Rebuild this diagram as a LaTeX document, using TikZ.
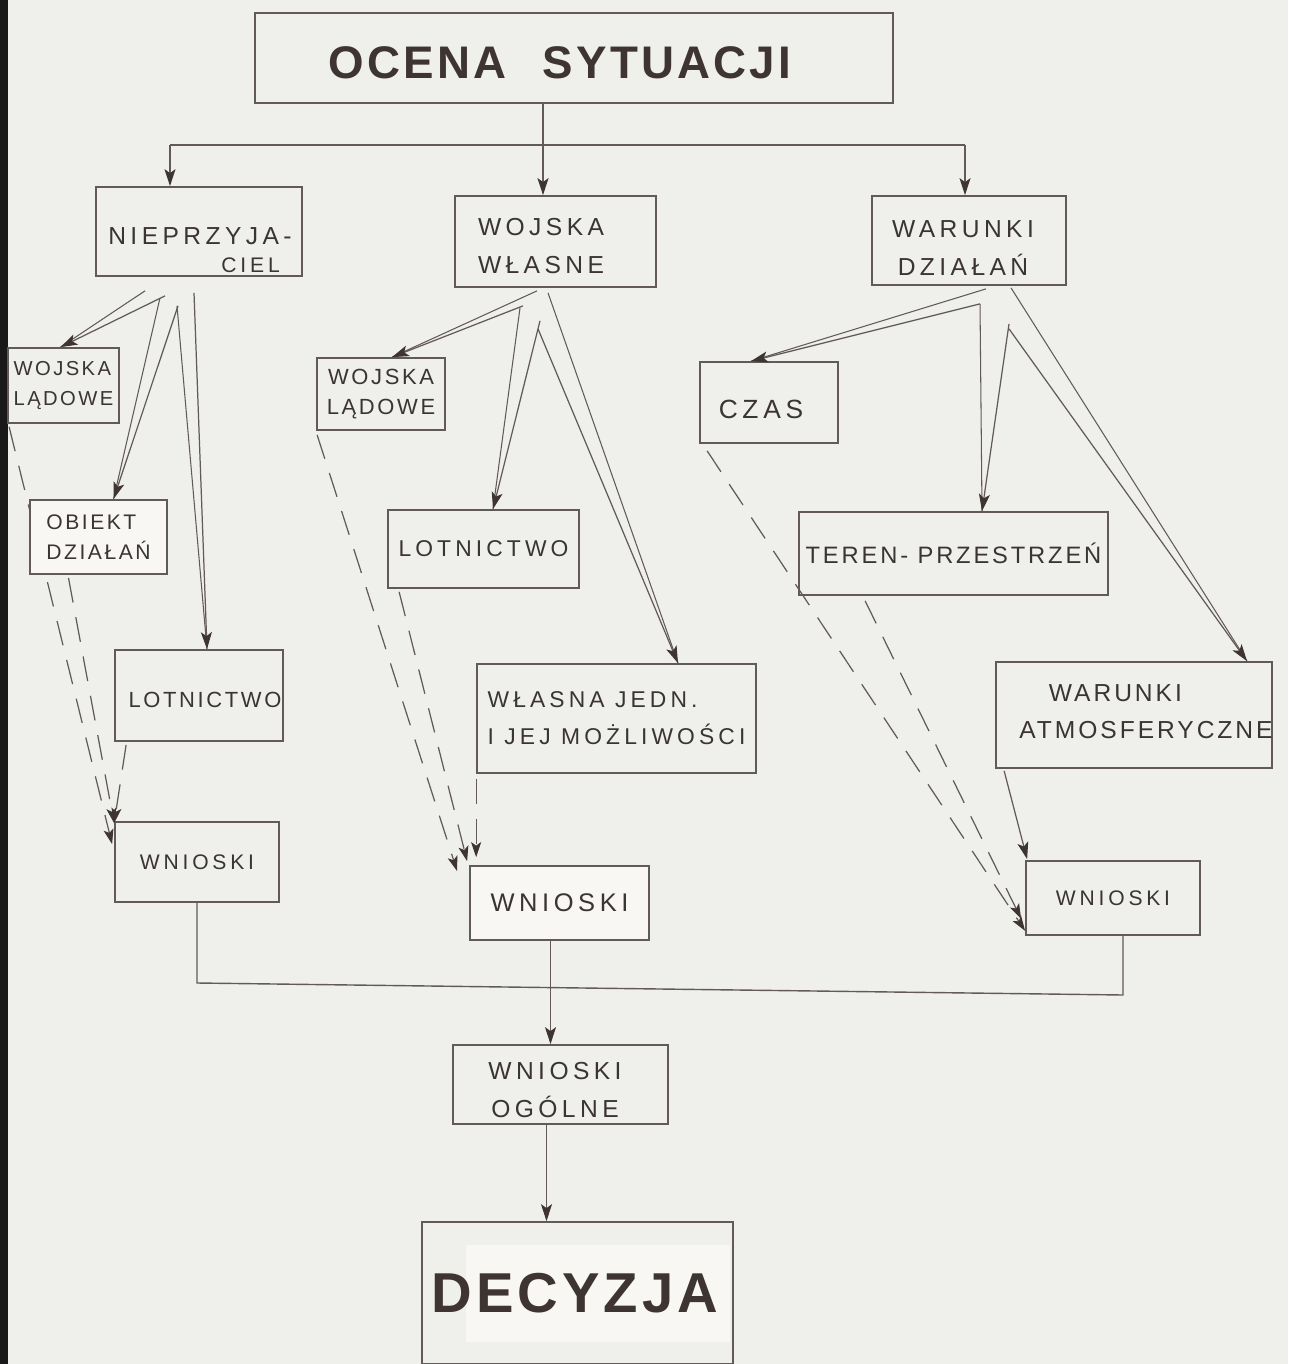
\documentclass[tikz,border=0pt]{standalone}
\usepackage{fontspec}
\newfontfamily\hand[LetterSpace=18]{Liberation Sans}
\newfontfamily\handn[LetterSpace=12]{Liberation Sans}
\newfontfamily\handb[LetterSpace=7]{Liberation Sans}
\usetikzlibrary{arrows.meta,calc}
\definecolor{paper}{HTML}{EFEFEC}
\definecolor{paperw}{HTML}{F8F7F3}
\definecolor{ink}{HTML}{625A58}
\definecolor{inkd}{HTML}{3E3432}
\definecolor{txt}{HTML}{3A3434}
\pgfdeclarelayer{paperlayer}
\pgfdeclarelayer{under}
\pgfsetlayers{paperlayer,under,main}
\tikzset{
  box/.style={draw=ink, line width=1pt, fill=paper, inner sep=0pt, align=center, text=txt,
    font=\hand\fontsize{14}{22}\selectfont},
  lbl/.style={inner sep=0pt, align=center, text=txt, font=\hand\fontsize{14}{22}\selectfont},
  line/.style={draw=ink, line width=0.8pt},
  thinl/.style={draw=ink, line width=0.6pt},
  tip/.style={-{Stealth[length=0.34cm,width=0.22cm,inset=0.08cm,color=inkd,fill=inkd]}},
  arr/.style={draw=ink, line width=0.7pt, tip},
  arrs/.style={draw=ink, line width=1.1pt, tip},
  dsh/.style={draw=ink, line width=0.7pt, dash pattern=on 0.5cm off 0.3cm},
  darr/.style={dsh, -{Stealth[length=0.3cm,width=0.2cm,inset=0.07cm,color=inkd,fill=inkd]}},
}
\newcommand\twin[3]{%
  \draw[thinl] #1 -- #3;
  \draw[arr] #2 -- #3;}
\begin{document}
\begin{tikzpicture}[x=0.02cm,y=-0.02cm]
\begin{pgfonlayer}{paperlayer}
\fill[paper] (0,0) rectangle (1288,1364);
\fill[black!90] (0,0) rectangle (8,1364);
\end{pgfonlayer}
\useasboundingbox (0,0) rectangle (1288,1364);

% top
\node[box, minimum width=638*0.02cm, minimum height=90*0.02cm] (top) at (574,58) {};
\node[lbl, font=\handb\bfseries\fontsize{26}{30}\selectfont, text=inkd] (topt) at (560,63) {OCENA\hspace{0.45em} SYTUACJI};
% level 1
\node[box, minimum width=206*0.02cm, minimum height=89*0.02cm] (niep) at (199,231.5) {};
\node[lbl, align=left] (niept) at (200,250) {NIEPRZYJA-\\[-6pt]\hspace*{4.6em}{\fontsize{12}{14}\selectfont CIEL}};
\node[box, minimum width=201*0.02cm, minimum height=91*0.02cm] (wwl) at (555.5,241.5) {};
\node[lbl] (wwlt) at (541,246) {WOJSKA\\WŁASNE};
\node[box, minimum width=194*0.02cm, minimum height=89*0.02cm] (wdz) at (969,240.5) {};
\node[lbl] (wdzt) at (963,248) {WARUNKI\\DZIAŁAŃ};
% left column
\node[box, minimum width=111*0.02cm, minimum height=75*0.02cm, font=\handn\fontsize{11.5}{17}\selectfont, align=left] (wl1) at (63.5,385.5) {WOJSKA\\LĄDOWE};
\node[box, fill=paperw, minimum width=137*0.02cm, minimum height=74*0.02cm, font=\handn\fontsize{12}{17}\selectfont, align=left] (obj) at (98.5,537) {OBIEKT\\DZIAŁAŃ};
\node[box, minimum width=168*0.02cm, minimum height=91*0.02cm] (lot1) at (199,695.5) {};
\node[lbl, font=\handn\fontsize{12.5}{16}\selectfont] (lot1t) at (205,700) {LOTNICTWO};
\node[box, minimum width=164*0.02cm, minimum height=80*0.02cm, font=\hand\fontsize{12}{16}\selectfont] (wn1) at (197,862) {WNIOSKI};
% middle column
\node[box, minimum width=128*0.02cm, minimum height=72*0.02cm, font=\handn\fontsize{12.5}{17}\selectfont] (wl2) at (381,394) {WOJSKA\\LĄDOWE};
\node[box, minimum width=191*0.02cm, minimum height=78*0.02cm, font=\hand\fontsize{13}{16}\selectfont] (lot2) at (483.5,549) {LOTNICTWO};
\node[box, minimum width=279*0.02cm, minimum height=109*0.02cm, font=\hand\fontsize{13}{21}\selectfont, align=left] (wje) at (616.5,718.5) {WŁASNA JEDN.\\I JEJ MOŻLIWOŚCI};
\node[box, fill=paperw, minimum width=179*0.02cm, minimum height=74*0.02cm, font=\hand\fontsize{14.5}{16}\selectfont] (wn2) at (559.5,903) {WNIOSKI};
% right column
\node[box, minimum width=138*0.02cm, minimum height=81*0.02cm] (czas) at (769,402.5) {};
\node[lbl, font=\hand\fontsize{15}{16}\selectfont] (czast) at (761,409) {CZAS};
\node[box, minimum width=309*0.02cm, minimum height=83*0.02cm, font=\handn\fontsize{13.5}{16}\selectfont] (ter) at (953.5,553.5) {TEREN- PRZESTRZEŃ};
\node[box, minimum width=276*0.02cm, minimum height=106*0.02cm] (atm) at (1134,715) {};
\node[lbl, font=\handn\fontsize{14}{21}\selectfont, align=left] (atmt) at (1146,712) {\hspace*{1.2em}WARUNKI\\ATMOSFERYCZNE};
\node[box, minimum width=174*0.02cm, minimum height=74*0.02cm, font=\hand\fontsize{12}{16}\selectfont] (wn3) at (1113,898) {WNIOSKI};
% bottom
\node[box, minimum width=215*0.02cm, minimum height=79*0.02cm] (wog) at (560.5,1084.5) {};
\node[lbl] (wogt) at (555,1090) {WNIOSKI\\OGÓLNE};
\node[box, minimum width=311*0.02cm, minimum height=142*0.02cm] (dec) at (577.5,1293) {};
\node[fill=paperw, inner sep=0pt, minimum width=264*0.02cm, minimum height=97*0.02cm] (decp) at (598,1293.5) {};
\node[lbl, font=\handb\bfseries\fontsize{32}{36}\selectfont, text=inkd] (dect) at (575,1293) {DECYZJA};

% top branches
\coordinate (jl) at (170,145);
\coordinate (jr) at (965,145);
\coordinate (tm) at ($(top.south)+(-31,0)$);
\draw[line] (jl) -- (jr);
\draw[arrs] (tm) -- (tm |- wwl.north);
\draw[arr] (jl) -- (jl |- niep.north);
\draw[arr] (jr) -- (jr |- wdz.north);

% NIEPRZYJACIEL
\twin{($(niep.south)+(-54,14)$)}{($(niep.south)+(-34,19)$)}{($(wl1.north)+(-3,0)$)}
\twin{($(niep.south)+(-39,21)$)}{($(niep.south)+(-21,29)$)}{($(obj.north)+(15,0)$)}
\twin{($(niep.south)+(-22,29)$)}{($(niep.south)+(-5,16)$)}{($(lot1.north)+(8,0)$)}
% WOJSKA WLASNE
\twin{($(wwl.south)+(-18.5,3)$)}{($(wwl.south)+(-32.5,18)$)}{($(wl2.north)+(11,0)$)}
\twin{($(wwl.south)+(-35.5,20)$)}{($(wwl.south)+(-15.5,33)$)}{($(lot2.north)+(9.5,0)$)}
\twin{($(wwl.south)+(-7.5,5)$)}{($(wwl.south)+(-17.5,41)$)}{($(wje.north)+(61.5,0)$)}
% WARUNKI DZIALAN
\twin{($(wdz.south)+(17,3)$)}{($(wdz.south)+(11,18)$)}{($(czas.north)+(-18,0)$)}
\twin{($(wdz.south)+(11,18)$)}{($(wdz.south)+(40,38)$)}{($(ter.north)+(28.5,0)$)}
\twin{($(wdz.south)+(42,2)$)}{($(wdz.south)+(40,43)$)}{($(atm.north)+(113,0)$)}

% dashed conclusions
\begin{pgfonlayer}{under}
\draw[darr] ($(wl1.south west)+(2,3)$) -- ($(wn1.north west)+(-2,23)$);
\end{pgfonlayer}
\draw[darr] ($(obj.south)+(-30,3)$) -- ($(wn1.north west)+(0,2)$);
\draw[darr] ($(lot1.south west)+(12,3)$) -- ($(wn1.north west)+(0,2)$);
\draw[darr] ($(wl2.south west)+(1,4)$) -- ($(wn2.north west)+(-12,6)$);
\draw[darr] ($(lot2.south west)+(12,3)$) -- ($(wn2.north west)+(-2,-4)$);
\draw[darr] ($(wje.south west)+(0,5)$) -- ($(wn2.north west)+(7,-8)$);
\draw[darr] ($(czas.south west)+(8,7)$) -- ($(wn3.south west)+(0,-5)$);
\draw[darr] ($(ter.south west)+(67,5)$) -- ($(wn3.south west)+(-4,-17)$);
\draw[arr] ($(atm.south west)+(9,2)$) -- ($(wn3.north west)+(2,-1)$);

% bottom
\coordinate (bl) at (197,983);
\coordinate (br) at (1123,995);
\draw[line] (wn1.south) -- (bl) -- (br) -- (br |- wn3.south);
\coordinate (m1) at ($(wn2.south)+(-9,0)$);
\draw[arr] (m1) -- (m1 |- wog.north);
\coordinate (m2) at ($(wog.south)+(-14,0)$);
\draw[arr] (m2) -- (m2 |- dec.north);
\end{tikzpicture}
\end{document}
